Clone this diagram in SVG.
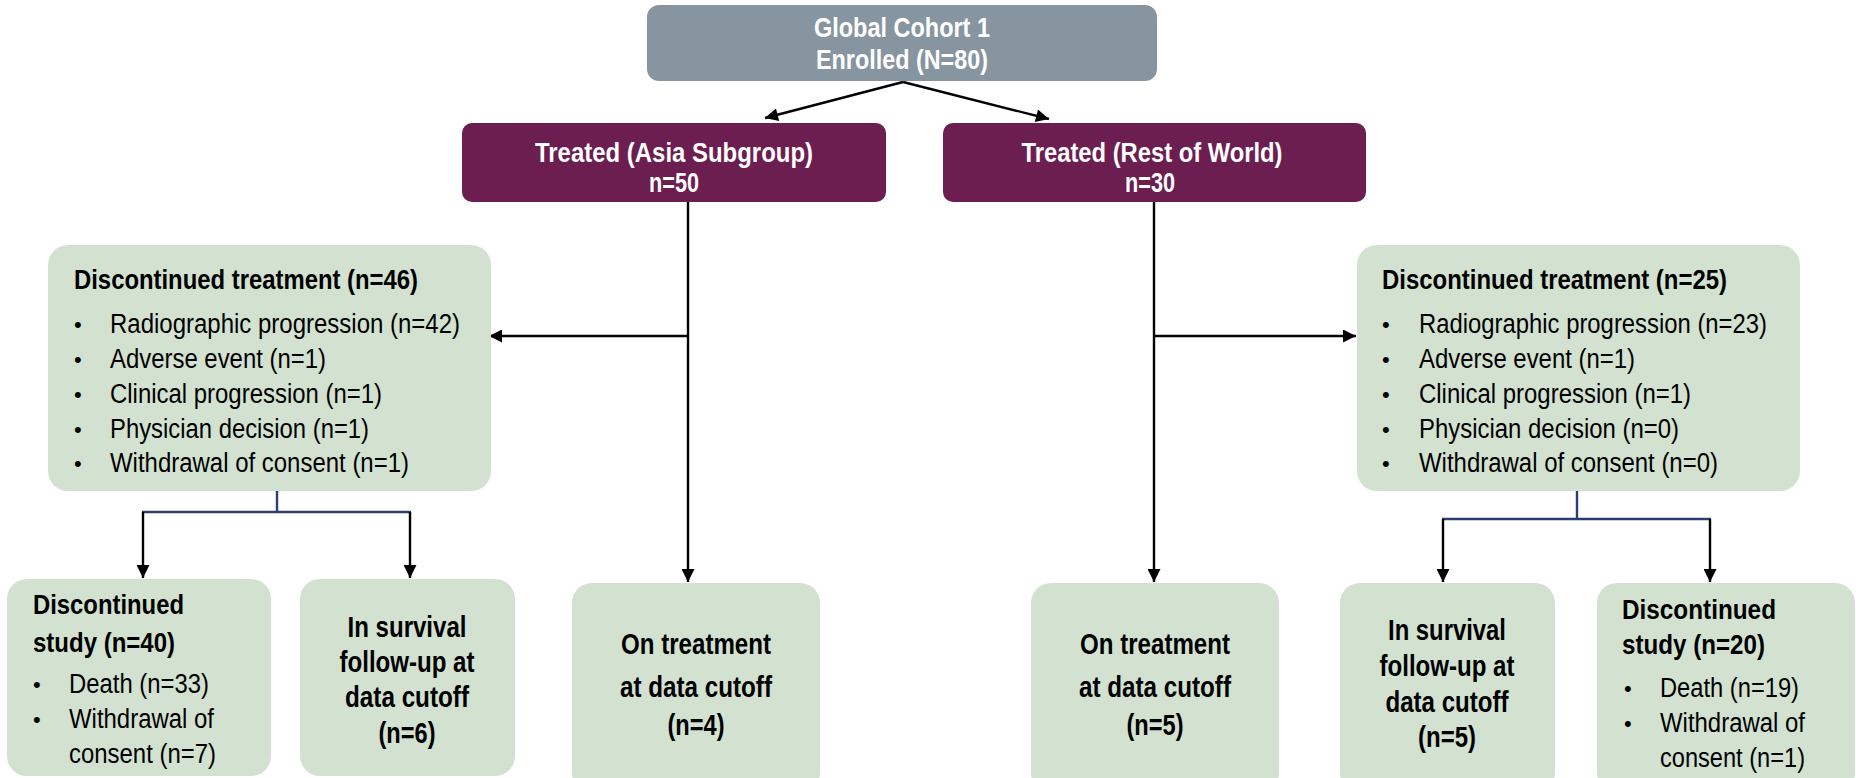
<svg xmlns="http://www.w3.org/2000/svg" width="1856" height="778" viewBox="0 0 1856 778">
<defs>
<marker id="ahb" viewBox="0 0 10 10" refX="10" refY="5" markerWidth="14" markerHeight="13" markerUnits="userSpaceOnUse" orient="auto">
<path d="M0,0 L10,5 L0,10 z" fill="#000"/>
</marker>
<style>
text{font-family:"Liberation Sans Narrow","Liberation Sans",Arial,sans-serif;}
.w{fill:#fff;font-weight:bold;font-size:27px;text-anchor:middle;}
.h{fill:#000;font-weight:bold;font-size:27px;}
.hc{fill:#000;font-weight:bold;font-size:29px;text-anchor:middle;}
.t{fill:#000;font-size:27px;}
.b{fill:#000;font-size:22px;}
.gray{fill:#8795A1;}
.mar{fill:#6B1E4F;}
.grn{fill:#D3E2D0;}
.ln{stroke:#000;stroke-width:2.4;fill:none;marker-end:url(#ahb);}
.nv{stroke:#2B3F6E;stroke-width:2.4;fill:none;}
</style>
</defs>
<g id="connectors">
<line class="ln" x1="903" y1="82" x2="765" y2="118"/>
<line class="ln" x1="903" y1="82" x2="1049" y2="119"/>
<line class="ln" x1="688" y1="201" x2="688" y2="582"/>
<line class="ln" x1="688" y1="336" x2="489" y2="336"/>
<line class="ln" x1="1154" y1="201" x2="1154" y2="582"/>
<line class="ln" x1="1154" y1="336" x2="1356" y2="336"/>
<polyline class="nv" points="277,490 277,512"/>
<line class="nv" x1="142" y1="512" x2="411" y2="512"/>
<line class="ln" x1="143" y1="512" x2="143" y2="578"/>
<line class="ln" x1="410" y1="512" x2="410" y2="578"/>
<polyline class="nv" points="1577,490 1577,519"/>
<line class="nv" x1="1442" y1="519" x2="1711" y2="519"/>
<line class="ln" x1="1443" y1="519" x2="1443" y2="582"/>
<line class="ln" x1="1710" y1="519" x2="1710" y2="582"/>
</g>
<g id="enrolled">
<rect class="gray" x="647" y="5" width="510" height="76" rx="12"/>
<text class="w" x="902" y="37" textLength="176" lengthAdjust="spacingAndGlyphs">Global Cohort 1</text>
<text class="w" x="902" y="69" textLength="172" lengthAdjust="spacingAndGlyphs">Enrolled (N=80)</text>
</g>
<g id="treated-asia">
<rect class="mar" x="462" y="123" width="424" height="79" rx="10"/>
<text class="w" x="674" y="162" textLength="278" lengthAdjust="spacingAndGlyphs">Treated (Asia Subgroup)</text>
<text class="w" x="674" y="192" textLength="50" lengthAdjust="spacingAndGlyphs">n=50</text>
</g>
<g id="treated-row">
<rect class="mar" x="943" y="123" width="423" height="79" rx="10"/>
<text class="w" x="1152" y="162" textLength="261" lengthAdjust="spacingAndGlyphs">Treated (Rest of World)</text>
<text class="w" x="1150" y="192" textLength="50" lengthAdjust="spacingAndGlyphs">n=30</text>
</g>
<g id="disc-treat-asia">
<rect class="grn" x="48" y="245" width="443" height="246" rx="20"/>
<text class="h" x="74" y="289" textLength="344" lengthAdjust="spacingAndGlyphs">Discontinued treatment (n=46)</text>
<text class="b" x="74" y="332">•</text>
<text class="t" x="110" y="333" textLength="350" lengthAdjust="spacingAndGlyphs">Radiographic progression (n=42)</text>
<text class="b" x="74" y="367">•</text>
<text class="t" x="110" y="368" textLength="216" lengthAdjust="spacingAndGlyphs">Adverse event (n=1)</text>
<text class="b" x="74" y="402">•</text>
<text class="t" x="110" y="403" textLength="272" lengthAdjust="spacingAndGlyphs">Clinical progression (n=1)</text>
<text class="b" x="74" y="437">•</text>
<text class="t" x="110" y="438" textLength="259" lengthAdjust="spacingAndGlyphs">Physician decision (n=1)</text>
<text class="b" x="74" y="471">•</text>
<text class="t" x="110" y="472" textLength="299" lengthAdjust="spacingAndGlyphs">Withdrawal of consent (n=1)</text>
</g>
<g id="disc-treat-row">
<rect class="grn" x="1357" y="245" width="443" height="246" rx="20"/>
<text class="h" x="1382" y="289" textLength="345" lengthAdjust="spacingAndGlyphs">Discontinued treatment (n=25)</text>
<text class="b" x="1382" y="332">•</text>
<text class="t" x="1419" y="333" textLength="348" lengthAdjust="spacingAndGlyphs">Radiographic progression (n=23)</text>
<text class="b" x="1382" y="367">•</text>
<text class="t" x="1419" y="368" textLength="216" lengthAdjust="spacingAndGlyphs">Adverse event (n=1)</text>
<text class="b" x="1382" y="402">•</text>
<text class="t" x="1419" y="403" textLength="272" lengthAdjust="spacingAndGlyphs">Clinical progression (n=1)</text>
<text class="b" x="1382" y="437">•</text>
<text class="t" x="1419" y="438" textLength="260" lengthAdjust="spacingAndGlyphs">Physician decision (n=0)</text>
<text class="b" x="1382" y="471">•</text>
<text class="t" x="1419" y="472" textLength="299" lengthAdjust="spacingAndGlyphs">Withdrawal of consent (n=0)</text>
</g>
<g id="disc-study-asia">
<rect class="grn" x="7" y="579" width="264" height="197" rx="20"/>
<text class="h" x="33" y="614" font-size="29" textLength="151" lengthAdjust="spacingAndGlyphs">Discontinued</text>
<text class="h" x="33" y="652" font-size="29" textLength="142" lengthAdjust="spacingAndGlyphs">study (n=40)</text>
<text class="b" x="33" y="692">•</text>
<text class="t" x="69" y="693" textLength="140" lengthAdjust="spacingAndGlyphs">Death (n=33)</text>
<text class="b" x="33" y="727">•</text>
<text class="t" x="69" y="728" textLength="145" lengthAdjust="spacingAndGlyphs">Withdrawal of</text>
<text class="t" x="69" y="763" textLength="147" lengthAdjust="spacingAndGlyphs">consent (n=7)</text>
</g>
<g id="survival-asia">
<rect class="grn" x="300" y="579" width="215" height="197" rx="20"/>
<text class="hc" x="407" y="637" textLength="119" lengthAdjust="spacingAndGlyphs">In survival</text>
<text class="hc" x="407" y="672" textLength="135" lengthAdjust="spacingAndGlyphs">follow-up at</text>
<text class="hc" x="407" y="707" textLength="124" lengthAdjust="spacingAndGlyphs">data cutoff</text>
<text class="hc" x="407" y="743" textLength="57" lengthAdjust="spacingAndGlyphs">(n=6)</text>
</g>
<g id="on-treatment-asia">
<rect class="grn" x="572" y="583" width="248" height="210" rx="20"/>
<text class="hc" x="696" y="654" textLength="150" lengthAdjust="spacingAndGlyphs">On treatment</text>
<text class="hc" x="696" y="697" textLength="152" lengthAdjust="spacingAndGlyphs">at data cutoff</text>
<text class="hc" x="696" y="735" textLength="57" lengthAdjust="spacingAndGlyphs">(n=4)</text>
</g>
<g id="on-treatment-row">
<rect class="grn" x="1031" y="583" width="248" height="210" rx="20"/>
<text class="hc" x="1155" y="654" textLength="150" lengthAdjust="spacingAndGlyphs">On treatment</text>
<text class="hc" x="1155" y="697" textLength="152" lengthAdjust="spacingAndGlyphs">at data cutoff</text>
<text class="hc" x="1155" y="735" textLength="57" lengthAdjust="spacingAndGlyphs">(n=5)</text>
</g>
<g id="survival-row">
<rect class="grn" x="1340" y="583" width="215" height="210" rx="20"/>
<text class="hc" x="1447" y="640" textLength="118" lengthAdjust="spacingAndGlyphs">In survival</text>
<text class="hc" x="1447" y="676" textLength="135" lengthAdjust="spacingAndGlyphs">follow-up at</text>
<text class="hc" x="1447" y="712" textLength="123" lengthAdjust="spacingAndGlyphs">data cutoff</text>
<text class="hc" x="1447" y="747" textLength="58" lengthAdjust="spacingAndGlyphs">(n=5)</text>
</g>
<g id="disc-study-row">
<rect class="grn" x="1597" y="583" width="258" height="210" rx="20"/>
<text class="h" x="1622" y="619" font-size="29" textLength="154" lengthAdjust="spacingAndGlyphs">Discontinued</text>
<text class="h" x="1622" y="654" font-size="29" textLength="143" lengthAdjust="spacingAndGlyphs">study (n=20)</text>
<text class="b" x="1624" y="696">•</text>
<text class="t" x="1660" y="697" textLength="139" lengthAdjust="spacingAndGlyphs">Death (n=19)</text>
<text class="b" x="1624" y="731">•</text>
<text class="t" x="1660" y="732" textLength="145" lengthAdjust="spacingAndGlyphs">Withdrawal of</text>
<text class="t" x="1660" y="767" textLength="145" lengthAdjust="spacingAndGlyphs">consent (n=1)</text>
</g>
</svg>
